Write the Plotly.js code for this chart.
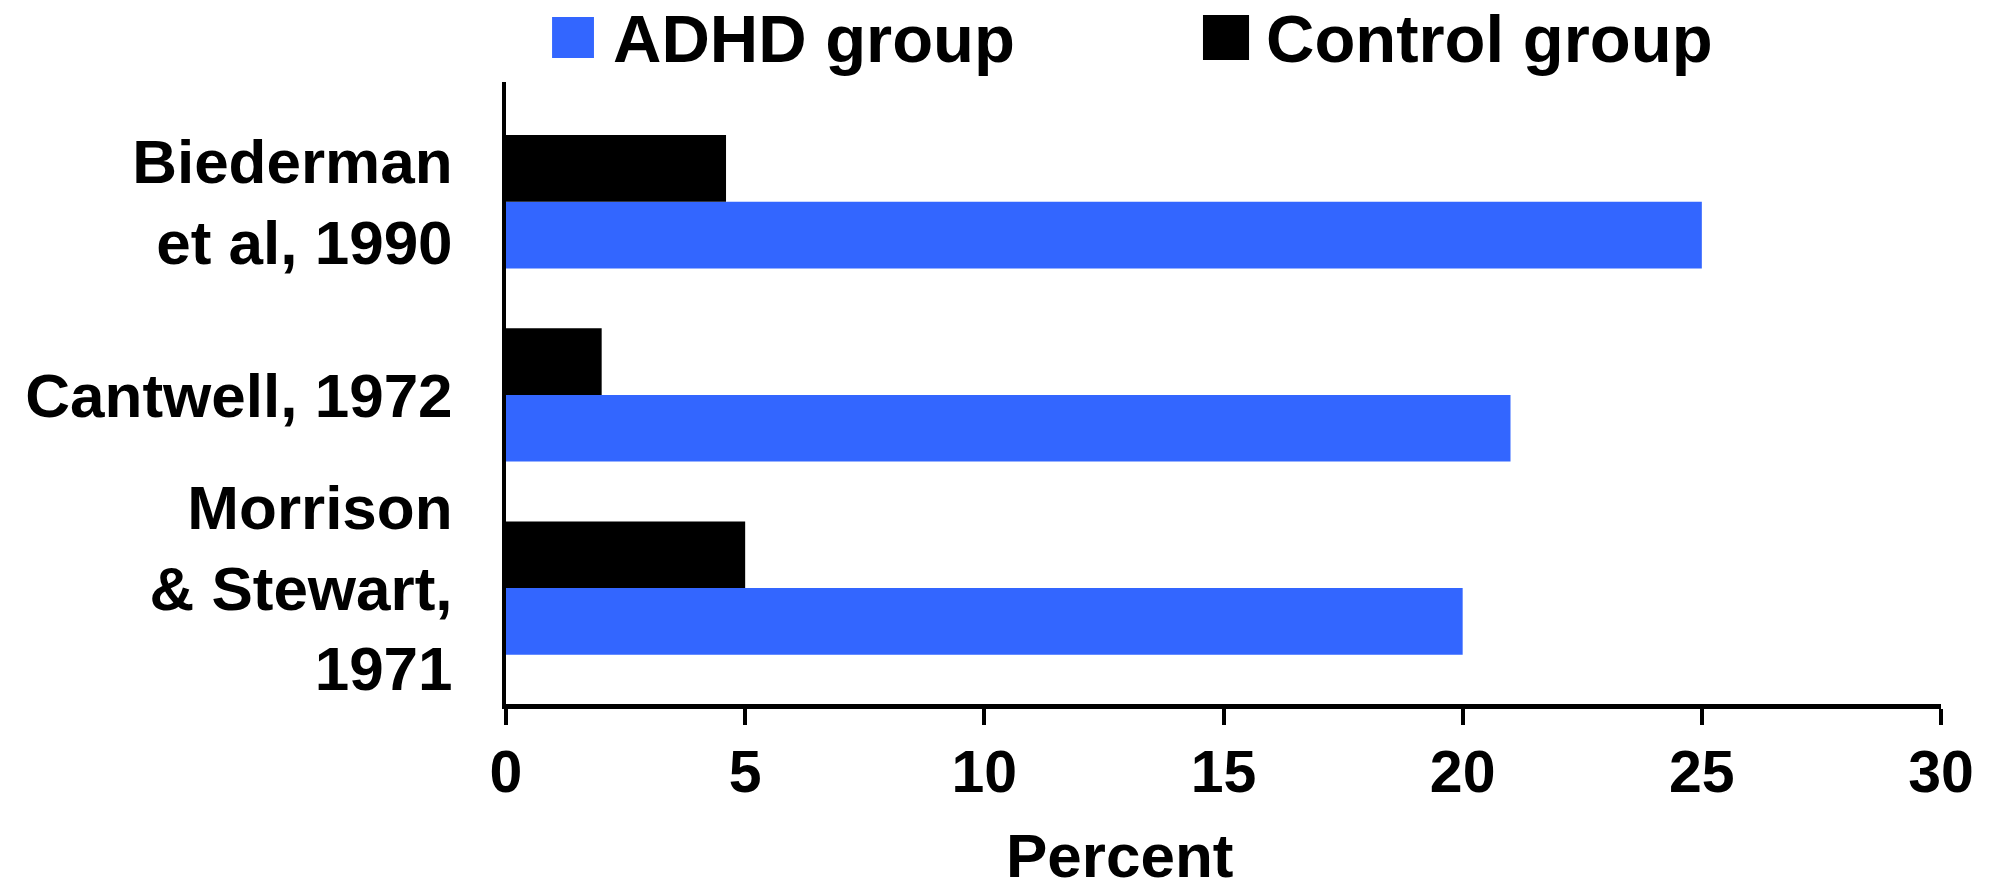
<!DOCTYPE html>
<html>
<head>
<meta charset="utf-8">
<script src="https://cdn.plot.ly/plotly-3.0.1.min.js"></script>
<style>html,body{margin:0;padding:0;background:#fff;}#chart{width:2000px;height:889px;}</style>
</head>
<body>
<div id="chart"></div>
<script>
// Data (bottom to top on the chart)
const categories = ["Morrison<br>& Stewart,<br>1971", "Cantwell, 1972", "Biederman<br>et al, 1990"];
const adhdValues = [20, 21, 25];
const controlValues = [5, 2, 4.6];
const seriesNames = ["ADHD group", "Control group"];
const xTickValues = [0, 5, 10, 15, 20, 25, 30];
const xAxisTitle = "Percent";

const BLUE = "#3366FF";
const BLACK = "#000000";
const FONT = "Liberation Sans, Arial, Helvetica, sans-serif";

const traces = [
  {type: "bar", orientation: "h", name: seriesNames[0], y: categories, x: adhdValues,
   marker: {color: BLUE, line: {width: 0}}, hoverinfo: "x+name"},
  {type: "bar", orientation: "h", name: seriesNames[1], y: categories, x: controlValues,
   marker: {color: BLACK, line: {width: 0}}, hoverinfo: "x+name"}
];

const layout = {
  width: 2000, height: 889,
  paper_bgcolor: "#fff", plot_bgcolor: "#fff",
  margin: {l: 506, r: 59, t: 82, b: 185, pad: 0},
  barmode: "group", bargap: 0.31, bargroupgap: 0,
  showlegend: false,
  font: {family: FONT, color: "#000", weight: "bold"},
  xaxis: {
    range: [0, 30], tickvals: xTickValues, ticktext: xTickValues.map(String),
    showgrid: false, zeroline: false, showline: true, linecolor: "#000", linewidth: 5,
    ticks: "outside", ticklen: 16, tickwidth: 4, tickcolor: "#000",
    tickfont: {family: FONT, size: 59, weight: "bold", color: "#000"},
    ticklabelstandoff: -4, fixedrange: true
  },
  yaxis: {
    type: "category", categoryorder: "array", categoryarray: categories,
    range: [-0.6, 2.62],
    showgrid: false, zeroline: false, showline: true, linecolor: "#000", linewidth: 4,
    ticks: "", tickfont: {family: FONT, size: 62, weight: "bold", color: "#000"},
    ticklabelstandoff: 37, fixedrange: true
  },
  shapes: [
    {type: "rect", xref: "paper", yref: "paper", x0: 0.0321, x1: 0.0613, y0: 1.0386, y1: 1.1045,
     fillcolor: BLUE, line: {width: 0}},
    {type: "rect", xref: "paper", yref: "paper", x0: 0.4857, x1: 0.5178, y0: 1.0354, y1: 1.1077,
     fillcolor: BLACK, line: {width: 0}}
  ],
  annotations: [
    {text: seriesNames[0], xref: "paper", yref: "paper", x: 0.0739, y: 1.1318, xanchor: "left", yanchor: "top",
     showarrow: false, borderpad: 0, font: {family: FONT, size: 67, weight: "bold", color: "#000"}},
    {text: seriesNames[1], xref: "paper", yref: "paper", x: 0.5289, y: 1.1318, xanchor: "left", yanchor: "top",
     showarrow: false, borderpad: 0, font: {family: FONT, size: 67, weight: "bold", color: "#000"}},
    {text: xAxisTitle, xref: "paper", yref: "paper", x: 0.4272, y: -0.244, xanchor: "center", yanchor: "middle",
     showarrow: false, font: {family: FONT, size: 62, weight: "bold", color: "#000"}}
  ]
};

Plotly.newPlot("chart", traces, layout, {staticPlot: true, displayModeBar: false});
</script>
</body>
</html>
